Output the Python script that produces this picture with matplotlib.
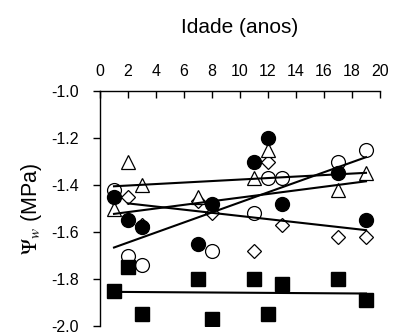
import numpy as np
import matplotlib
matplotlib.use("Agg")
import matplotlib.pyplot as plt

plt.rcParams["font.family"] = ["Liberation Sans", "DejaVu Sans"]
plt.rcParams["axes.unicode_minus"] = False
plt.rcParams["mathtext.fontset"] = "stix"

# Potencial hídrico (MPa) por idade do povoamento (anos)
idade_quadrado = [1, 2, 3, 7, 8, 11, 12, 13, 17, 19]
psi_quadrado = [-1.85, -1.75, -1.95, -1.80, -1.97, -1.80, -1.95, -1.82, -1.80, -1.89]

idade_circ_cheio = [1, 2, 3, 7, 8, 11, 12, 13, 17, 19]
psi_circ_cheio = [-1.45, -1.55, -1.58, -1.65, -1.48, -1.30, -1.20, -1.48, -1.35, -1.55]

idade_circ_vazio = [1, 2, 3, 8, 11, 12, 13, 17, 19]
psi_circ_vazio = [-1.42, -1.70, -1.74, -1.68, -1.52, -1.37, -1.37, -1.30, -1.25]

idade_triang = [1, 2, 3, 7, 11, 12, 17, 19]
psi_triang = [-1.50, -1.30, -1.40, -1.45, -1.37, -1.25, -1.42, -1.35]

idade_losango = [2, 3, 7, 8, 11, 12, 13, 17, 19]
psi_losango = [-1.45, -1.57, -1.47, -1.52, -1.68, -1.30, -1.57, -1.62, -1.62]

x_ticks = list(range(0, 21, 2))
y_ticks = [-1.0, -1.2, -1.4, -1.6, -1.8, -2.0]

fig = plt.figure(figsize=(3.93, 3.35), dpi=100)
ax = fig.add_axes([100 / 393, 1 - 326 / 335, 280 / 393, 235 / 335])

open_kw = dict(linestyle="none", markerfacecolor="white", markeredgecolor="black",
               markeredgewidth=0.9, zorder=3)
fill_kw = dict(linestyle="none", color="black", zorder=4)

ax.plot(idade_losango, psi_losango, marker="D", markersize=7, **open_kw)
ax.plot(idade_triang, psi_triang, marker="^", markersize=10, **open_kw)
ax.plot(idade_circ_vazio, psi_circ_vazio, marker="o", markersize=10, **open_kw)
ax.plot(idade_circ_cheio, psi_circ_cheio, marker="o", markersize=10, **fill_kw)
ax.plot(idade_quadrado, psi_quadrado, marker="s", markersize=10, **fill_kw)

# Retas de regressão linear de cada série
for xs, ys in [(idade_quadrado, psi_quadrado), (idade_circ_cheio, psi_circ_cheio),
               (idade_circ_vazio, psi_circ_vazio), (idade_triang, psi_triang),
               (idade_losango, psi_losango)]:
    a, b = np.polyfit(xs, ys, 1)
    xr = np.array([min(xs), max(xs)])
    ax.plot(xr, a * xr + b, color="black", linewidth=1.5, zorder=5)

ax.set_xlim(0, 20)
ax.set_ylim(-2.0, -1.0)
ax.set_xticks(x_ticks)
ax.set_yticks(y_ticks)
ax.set_yticklabels([f"{v:.1f}" for v in y_ticks])

ax.xaxis.tick_top()
ax.xaxis.set_label_position("top")
ax.spines["right"].set_visible(False)
ax.spines["bottom"].set_visible(False)
for s in ("left", "top"):
    ax.spines[s].set_linewidth(1.0)

ax.tick_params(axis="x", direction="in", length=5, width=1.0, pad=9,
               labelsize=11.5, top=True, bottom=False)
ax.tick_params(axis="y", direction="out", length=5, width=1.0, pad=10,
               labelsize=11.5)

ax.set_xlabel("Idade (anos)", fontsize=15, labelpad=22)
ax.set_ylabel(r"$\Psi_w$ (MPa)", fontsize=15.5, labelpad=5)

fig.savefig("out.png", dpi=100)
